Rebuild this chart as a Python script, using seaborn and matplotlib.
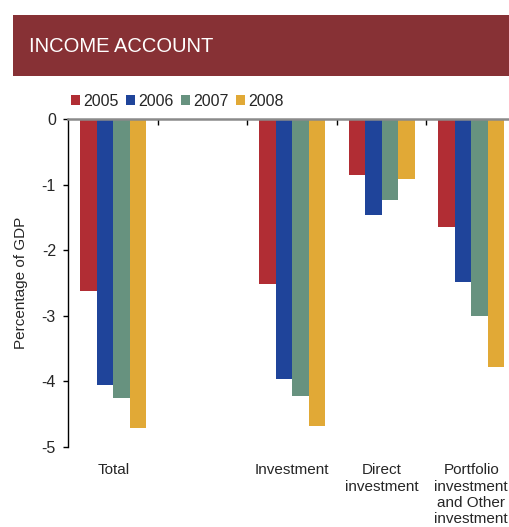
import matplotlib
matplotlib.use("Agg")
import matplotlib.pyplot as plt
from matplotlib.patches import Rectangle, Patch
import seaborn as sns
import pandas as pd
import numpy as np

# Income account components, percentage of GDP
categories = ["Total", " ", "Investment", "Direct\ninvestment",
              "Portfolio\ninvestment\nand Other\ninvestment"]
years = ["2005", "2006", "2007", "2008"]
values_2005 = [-2.62, np.nan, -2.51, -0.85, -1.65]
values_2006 = [-4.06, np.nan, -3.96, -1.46, -2.49]
values_2007 = [-4.25, np.nan, -4.23, -1.23, -3.01]
values_2008 = [-4.71, np.nan, -4.69, -0.91, -3.78]
y_ticks = [0, -1, -2, -3, -4, -5]

colors = ["#B12D34", "#1F449A", "#67927F", "#E1A936"]

rows = []
for year, vals in zip(years, [values_2005, values_2006, values_2007, values_2008]):
    for cat, v in zip(categories, vals):
        rows.append({"category": cat, "year": year, "value": v})
df = pd.DataFrame(rows)

sns.set_style("white")
plt.rcParams["font.family"] = ["Liberation Sans", "DejaVu Sans"]

fig = plt.figure(figsize=(5.10, 5.27), dpi=100)
ax = fig.add_axes([68.5 / 510, 1 - 446.7 / 527, (516 - 68.5) / 510, (446.7 - 119.3) / 527])

sns.barplot(data=df, x="category", y="value", hue="year", order=categories,
            hue_order=years, palette=colors, width=0.74, saturation=1,
            errorbar=None, ax=ax, legend=False, linewidth=0, edgecolor="none")

ax.set_ylim(-5, 0)
ax.set_xlim(-0.5, 4.5)
ax.set_yticks(y_ticks)
ax.set_yticklabels([str(t) for t in y_ticks], fontsize=11.5)
ax.set_xlabel("")
ax.set_ylabel("Percentage of GDP", fontsize=11, labelpad=10)

ax.set_xticks(range(len(categories)))
ax.set_xticklabels(categories, fontsize=11, linespacing=1.2, va="top")
ax.set_xticks([0.5, 1.5, 2.5, 3.5], minor=True)
ax.tick_params(axis="x", which="major", length=0, pad=12, bottom=True, top=False)
ax.tick_params(axis="x", which="minor", length=4, width=1, color="black",
               direction="in", top=True, bottom=False)
ax.tick_params(axis="y", which="major", left=True, length=3.5, width=1,
               color="black", direction="out", pad=5.5)

for side in ["right", "bottom"]:
    ax.spines[side].set_visible(False)
ax.spines["left"].set_color("black")
ax.spines["left"].set_linewidth(1)
ax.spines["top"].set_color("#8A8A8A")
ax.spines["top"].set_linewidth(1.8)
ax.spines["top"].set_zorder(5)

# Title banner
fig.patches.append(Rectangle((13 / 510, 1 - 76 / 527), 1, 61 / 527,
                             transform=fig.transFigure, facecolor="#873135",
                             edgecolor="none", zorder=0))
fig.text(29 / 510, 1 - 47 / 527, "INCOME ACCOUNT", color="white",
         fontsize=14.5, va="center", ha="left")

handles = [Patch(facecolor=c, edgecolor="none") for c in colors]
fig.legend(handles, years, loc="center left", bbox_to_anchor=(71 / 510, 1 - 101 / 527),
           ncol=4, frameon=False, fontsize=11.5, handlelength=0.58, handleheight=0.58,
           handletextpad=0.2, columnspacing=0.45, borderaxespad=0, borderpad=0)

fig.savefig("out.png", dpi=100)
